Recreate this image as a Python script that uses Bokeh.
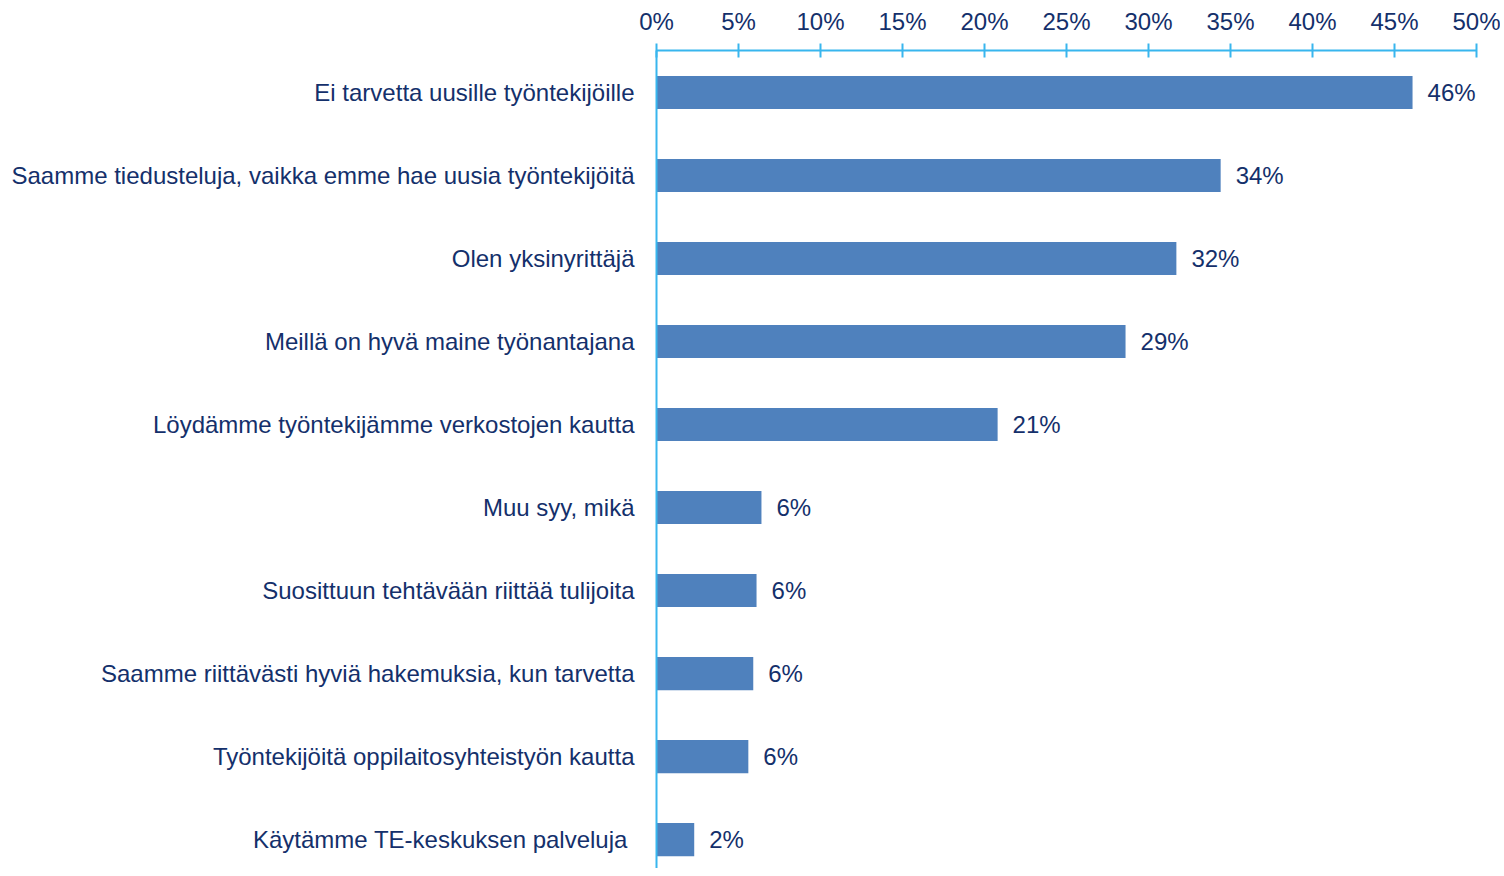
from bokeh.plotting import figure
from bokeh.models import Range1d, FixedTicker, PrintfTickFormatter, ColumnDataSource
from bokeh.core.properties import value
from bokeh.embed import file_html
from bokeh.resources import INLINE

categories = [
    "Ei tarvetta uusille työntekijöille",
    "Saamme tiedusteluja, vaikka emme hae uusia työntekijöitä",
    "Olen yksinyrittäjä",
    "Meillä on hyvä maine työnantajana",
    "Löydämme työntekijämme verkostojen kautta",
    "Muu syy, mikä",
    "Suosittuun tehtävään riittää tulijoita",
    "Saamme riittävästi hyviä hakemuksia, kun tarvetta",
    "Työntekijöitä oppilaitosyhteistyön kautta",
    "Käytämme TE-keskuksen palveluja ",
]
values = [46.1, 34.4, 31.7, 28.6, 20.8, 6.4, 6.1, 5.9, 5.6, 2.3]
x_ticks = [0, 5, 10, 15, 20, 25, 30, 35, 40, 45, 50]

FONT = "Liberation Sans"
TEXT = "#14306B"
AXIS = "#38B6EE"
BAR = "#4F81BD"

pos = list(range(len(categories)))
src = ColumnDataSource(dict(
    y=pos, v=values, lab=[f"{round(v)}%" for v in values]))

p = figure(width=1500, height=868, output_backend="svg", toolbar_location=None,
           x_range=Range1d(0, 50), y_range=Range1d(9.349, -0.506),
           x_axis_location="above", frame_width=820, frame_height=818,
           min_border_left=656, min_border_right=24, min_border_top=50,
           min_border_bottom=0)
p.outline_line_color = None
p.xgrid.visible = False
p.ygrid.visible = False

p.hbar(y="y", right="v", left=0, height=0.4, source=src, color=BAR, line_color=None)
p.text(x="v", y="y", text="lab", source=src, x_offset=15, text_align="left",
       text_baseline="middle", text_color=TEXT, text_font=value(FONT),
       text_font_size="24px")

xa = p.xaxis[0]
xa.ticker = FixedTicker(ticks=x_ticks)
xa.formatter = PrintfTickFormatter(format="%d%%")
xa.axis_line_color = AXIS
xa.axis_line_width = 2
xa.major_tick_line_color = AXIS
xa.major_tick_line_width = 2
xa.major_tick_in = 7
xa.major_tick_out = 7
xa.minor_tick_line_color = None
xa.major_label_text_font = FONT
xa.major_label_text_font_size = "24px"
xa.major_label_text_color = TEXT
xa.major_label_standoff = 9

ya = p.yaxis[0]
ya.ticker = FixedTicker(ticks=pos)
ya.major_label_overrides = {i: c for i, c in enumerate(categories)}
ya.axis_line_color = AXIS
ya.axis_line_width = 2
ya.major_tick_line_color = None
ya.minor_tick_line_color = None
ya.major_label_text_font = FONT
ya.major_label_text_font_size = "24px"
ya.major_label_text_color = TEXT
ya.major_label_standoff = 16

open("out.html", "w").write(file_html(p, INLINE))
